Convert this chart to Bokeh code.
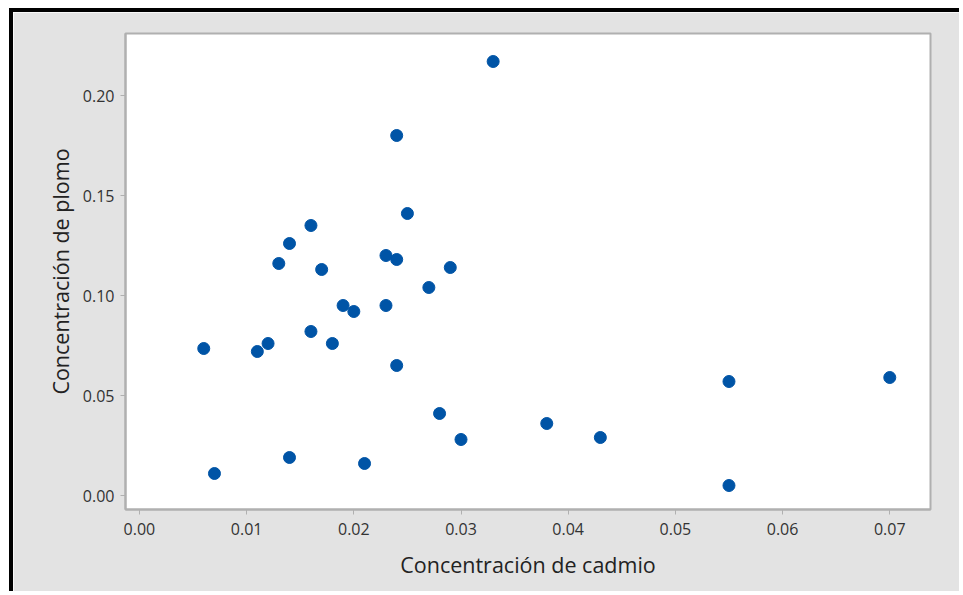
from bokeh.plotting import figure
from bokeh.models import FixedTicker, PrintfTickFormatter, Range1d
from bokeh.embed import file_html
from bokeh.resources import INLINE

cadmio = [0.006, 0.007, 0.011, 0.012, 0.013, 0.014, 0.014, 0.016, 0.016, 0.017,
          0.018, 0.019, 0.020, 0.021, 0.023, 0.023, 0.024, 0.024, 0.024, 0.025,
          0.027, 0.028, 0.029, 0.030, 0.033, 0.038, 0.043, 0.055, 0.055, 0.070]
plomo = [0.0735, 0.011, 0.072, 0.076, 0.116, 0.126, 0.019, 0.135, 0.082, 0.113,
         0.076, 0.095, 0.092, 0.016, 0.120, 0.095, 0.180, 0.118, 0.065, 0.141,
         0.104, 0.041, 0.114, 0.028, 0.217, 0.036, 0.029, 0.057, 0.005, 0.059]
x_ticks = [0.00, 0.01, 0.02, 0.03, 0.04, 0.05, 0.06, 0.07]
y_ticks = [0.00, 0.05, 0.10, 0.15, 0.20]

FONT = "Open Sans"
BG = "#e3e3e3"
AX = "#b0b0b0"

p = figure(width=950, height=583, output_backend="svg", toolbar_location=None,
           x_range=Range1d(-0.0013, 0.0738), y_range=Range1d(-0.007, 0.231),
           min_border_left=112, min_border_top=21, min_border_right=33, min_border_bottom=86)
p.styles = {"border-left": "4px solid black", "border-top": "4px solid black",
            "margin-left": "9px", "margin-top": "8px"}

p.background_fill_color = "white"
p.border_fill_color = BG
p.outline_line_color = AX
p.outline_line_width = 2
p.xgrid.visible = False
p.ygrid.visible = False

p.scatter(cadmio, plomo, size=12, color="#0054a6", line_color="#0054a6")

for ax in (p.xaxis[0], p.yaxis[0]):
    ax.axis_line_color = AX
    ax.axis_line_width = 2
    ax.major_tick_line_color = AX
    ax.major_tick_in = 0
    ax.major_tick_out = 5
    ax.minor_tick_line_color = None
    ax.major_label_text_font = FONT
    ax.major_label_text_font_size = "16px"
    ax.major_label_text_color = "#333333"
    ax.axis_label_text_font = FONT
    ax.axis_label_text_font_size = "21.5px"
    ax.axis_label_text_font_style = "normal"
    ax.axis_label_text_color = "#222222"
    ax.formatter = PrintfTickFormatter(format="%.2f")

p.xaxis[0].ticker = FixedTicker(ticks=x_ticks)
p.yaxis[0].ticker = FixedTicker(ticks=y_ticks)
p.xaxis[0].axis_label = "Concentración de cadmio"
p.yaxis[0].axis_label = "Concentración de plomo"
p.xaxis[0].major_label_standoff = 8
p.yaxis[0].major_label_standoff = 6
p.xaxis[0].axis_label_standoff = 12
p.yaxis[0].axis_label_standoff = 5

open("out.html", "w").write(file_html(p, INLINE))
